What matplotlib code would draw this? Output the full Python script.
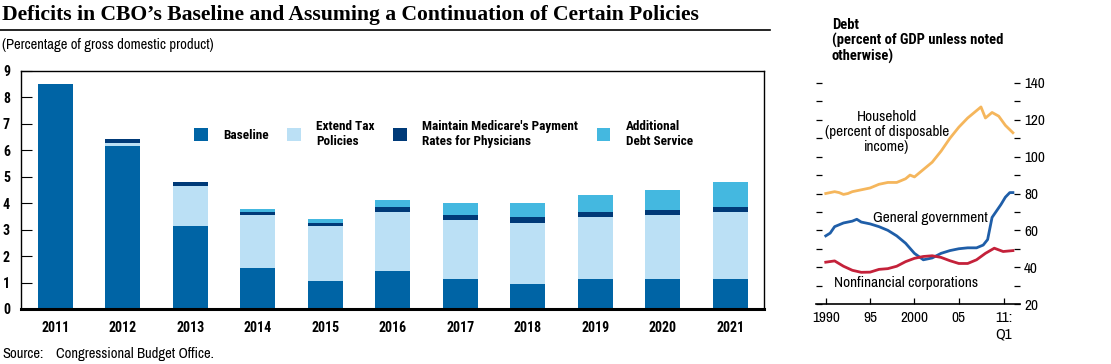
import numpy as np
import matplotlib
matplotlib.use('Agg')
import matplotlib.pyplot as plt
from matplotlib import font_manager
from matplotlib.patches import Patch
from matplotlib.lines import Line2D
from matplotlib.ticker import MultipleLocator

# pick narrow sans families that are actually installed (one with a real bold face)
def _w(w):
    return font_manager.weight_dict.get(w, w) if isinstance(w, str) else w

faces = {}
for f in font_manager.fontManager.ttflist:
    faces.setdefault(f.name, set()).add(_w(f.weight))
cands = ['Liberation Sans Narrow', 'Arial Narrow', 'Archivo Narrow', 'Roboto Condensed',
         'PT Sans Narrow', 'Pragati Narrow', 'Fira Sans Condensed', 'IBM Plex Sans Condensed',
         'Encode Sans Condensed', 'Barlow Semi Condensed', 'Sofia Sans Condensed',
         'Open Sans Condensed']
narrow = next((c for c in cands if c in faces), 'DejaVu Sans')
narrow_bold = next((c for c in cands if c in faces and max(faces[c]) >= 600), 'DejaVu Sans')
plt.rcParams['font.family'] = [narrow, 'DejaVu Sans']
BOLD = dict(family=[narrow_bold, 'DejaVu Sans'], weight='bold')

# Left panel: deficits, percentage of GDP (stacked components)
years = ['2011', '2012', '2013', '2014', '2015', '2016', '2017', '2018', '2019', '2020', '2021']
baseline = [8.50, 6.16, 3.14, 1.55, 1.06, 1.44, 1.13, 0.95, 1.13, 1.13, 1.13]
extend_tax = [0.00, 0.12, 1.51, 2.00, 2.08, 2.23, 2.24, 2.30, 2.35, 2.42, 2.54]
medicare = [0.00, 0.15, 0.15, 0.12, 0.11, 0.19, 0.18, 0.23, 0.19, 0.19, 0.19]
debt_service = [0.00, 0.00, 0.00, 0.11, 0.15, 0.26, 0.46, 0.53, 0.64, 0.76, 0.94]
series_labels = ['Baseline', 'Extend Tax\nPolicies',
                 "Maintain Medicare's Payment\nRates for Physicians",
                 'Additional\nDebt Service']

# Right panel: debt ratios
hh_t = [1990, 1990.5, 1991, 1991.5, 1992, 1992.5, 1993, 1994, 1995, 1996, 1997, 1998,
        1999, 1999.5, 2000, 2001, 2002, 2003, 2004, 2005, 2006, 2007, 2007.5, 2008,
        2008.75, 2009.5, 2010.25, 2011.1]
hh_v = [80, 80.5, 81, 80.5, 79.5, 80, 81, 82, 83, 85, 86, 86,
        88, 90, 89, 93, 97, 103, 110, 116, 121, 125, 127, 121,
        124, 122, 117, 113]
gg_t = [1990, 1990.5, 1991, 1992, 1993, 1993.5, 1994, 1995, 1996, 1997, 1998, 1999,
        2000, 2001, 2002, 2003, 2004, 2005, 2006, 2007, 2007.75, 2008.25, 2008.75,
        2009.25, 2009.75, 2010.25, 2010.75, 2011.1]
gg_v = [57, 58.5, 62, 64, 65, 66, 64.5, 63.5, 62, 60, 57, 53,
        47.5, 44, 45, 47.5, 49, 50, 50.5, 50.5, 52, 55, 67,
        70.5, 74, 78, 80.5, 80.5]
nc_t = [1990, 1991, 1992, 1993, 1994, 1995, 1996, 1997, 1998, 1999, 2000, 2001,
        2002, 2003, 2004, 2005, 2006, 2007, 2008, 2009, 2010, 2011.1]
nc_v = [42.7, 43.4, 40.5, 38.3, 37.2, 37.3, 38.8, 39.2, 40.5, 43, 44.8, 45.8,
        46.2, 45.3, 43.5, 42, 42, 44, 47.5, 50.3, 48.5, 49]
debt_ticks = [1990, 1995, 2000, 2005, 2010.1]
debt_ticklabels = ['1990', '95', '2000', '05', '11:\nQ1']

W, H = 1111, 364
colors = ['#0064a5', '#bbe0f5', '#003a78', '#44b8e0']

fig = plt.figure(figsize=(W / 100, H / 100), dpi=100)

# ---- bar chart
ax = fig.add_axes([21 / W, 1 - 309 / H, 743 / W, 238 / H])
x = np.arange(len(years))
bottom = np.zeros(len(years))
for vals, c in zip([baseline, extend_tax, medicare, debt_service], colors):
    ax.bar(x, vals, width=0.52, bottom=bottom, color=c, linewidth=0)
    bottom += np.array(vals)
ax.set_xlim(-0.51, 10.5)
ax.set_ylim(0, 9)
ax.set_yticks(range(10))
ax.set_xticks(x)
ax.set_xticklabels(years, fontsize=10, **BOLD)
ax.set_yticklabels([str(v) for v in range(10)], fontsize=10, **BOLD)
ax.tick_params(axis='y', direction='in', length=8, width=0.8, pad=8)
ax.tick_params(axis='x', length=0, pad=9)
for s in ['top', 'left', 'right']:
    ax.spines[s].set_linewidth(1.0)
ax.spines['bottom'].set_linewidth(2.2)

handles = [Patch(facecolor=c) for c in colors]
ax.legend(handles, series_labels, ncol=4, loc='center left',
          bbox_to_anchor=(194 / W, 1 - 134 / H), bbox_transform=fig.transFigure,
          frameon=False, borderpad=0, borderaxespad=0, handlelength=1.05,
          handleheight=1.05, handletextpad=1.15, columnspacing=1.4,
          prop=dict(size=9.5, **BOLD))

# ---- debt line chart
ax2 = fig.add_axes([816 / W, 1 - 304 / H, 204 / W, 221 / H])
ax2.plot(hh_t, hh_v, color='#f5b65c', lw=2)
ax2.plot(gg_t, gg_v, color='#1f5ea8', lw=2)
ax2.plot(nc_t, nc_v, color='#c4213a', lw=2)
ax2.set_xlim(1988.9, 2011.9)
ax2.set_ylim(20, 140)
for s in ['top', 'left', 'right']:
    ax2.spines[s].set_visible(False)
ax2.spines['bottom'].set_linewidth(1.2)
ax2.yaxis.set_major_locator(MultipleLocator(20))
ax2.yaxis.set_minor_locator(MultipleLocator(10))
ax2.tick_params(axis='y', which='both', left=True, right=True, labelleft=False,
                labelright=True, direction='in', length=4, width=0.9, pad=3,
                labelsize=11)
ax2.set_xticks(debt_ticks)
ax2.set_xticklabels(debt_ticklabels)
ax2.tick_params(axis='x', direction='in', length=4, width=0.9, pad=5, labelsize=11)

ax2.text(1996.9, 113.5, 'Household\n(percent of disposable\nincome)', ha='center',
         va='center', fontsize=11, linespacing=1.1)
ax2.text(2001.8, 66.7, 'General government', ha='center', va='center', fontsize=11)
ax2.text(1999.0, 31.2, 'Nonfinancial corporations', ha='center', va='center',
         fontsize=11)

fig.text(832 / W, 1 - 18 / H, 'Debt\n(percent of GDP unless noted\notherwise)',
         va='top', ha='left', fontsize=10.5, linespacing=1.1, **BOLD)

# ---- titles and notes
fig.text(2 / W, 1 - 15 / H,
         'Deficits in CBO\u2019s Baseline and Assuming a Continuation of Certain Policies',
         family='Liberation Serif', fontweight='bold', fontsize=15.6, va='center')
fig.add_artist(Line2D([0, 770 / W], [1 - 30 / H, 1 - 30 / H], color='black', lw=1.2,
                      transform=fig.transFigure))
fig.text(2 / W, 1 - 45 / H, '(Percentage of gross domestic product)', fontsize=10.5,
         va='center')
fig.text(2 / W, 1 - 354 / H, 'Source:', fontsize=10.5, va='center')
fig.text(56 / W, 1 - 354 / H, 'Congressional Budget Office.', fontsize=10.5, va='center')

fig.savefig('out.png', dpi=100)
